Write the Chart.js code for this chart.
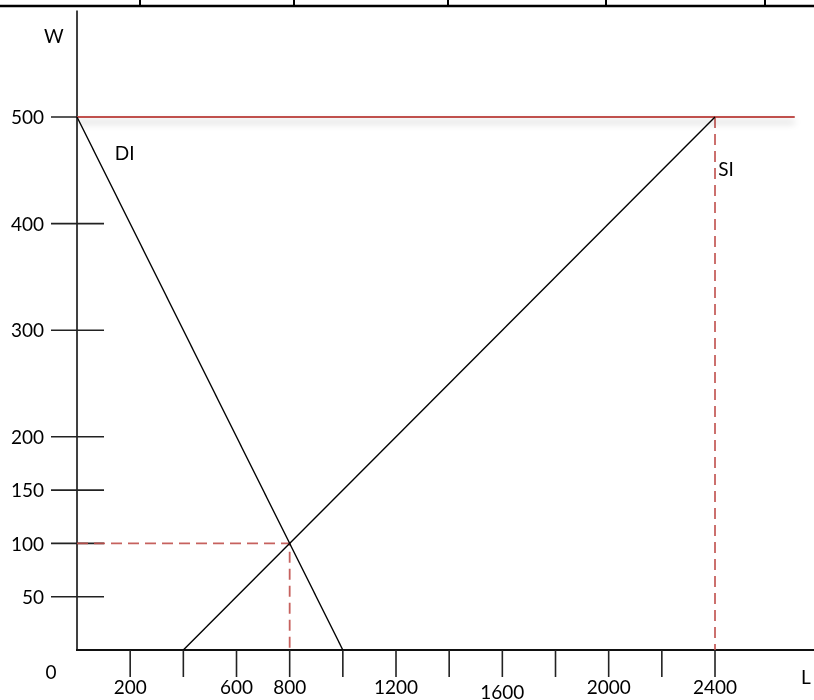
<!DOCTYPE html>
<html>
<head>
<meta charset="utf-8">
<script src="https://cdn.jsdelivr.net/npm/chart.js@4/dist/chart.umd.min.js"></script>
<style>
  html, body { margin: 0; padding: 0; background: #fff; }
  #wrap { width: 814px; height: 700px; }
</style>
</head>
<body>
<div id="wrap"><canvas id="myChart" width="814" height="700"></canvas></div>
<script>
// values
const diLine = [{x: 0, y: 500}, {x: 1000, y: 0}];
const siLine = [{x: 400, y: 0}, {x: 2400, y: 500}];
const capLine = [{x: 0, y: 500}, {x: 2700, y: 500}];
const eqGuide = [{x: 0, y: 100}, {x: 800, y: 100}, {x: 800, y: 0}];
const capGuide = [{x: 2400, y: 500}, {x: 2400, y: 0}];

const yTicks = [50, 100, 150, 200, 300, 400, 500];
const xTicks = [200, 400, 600, 800, 1000, 1200, 1400, 1600, 1800, 2000, 2200, 2400];
const xTickLabels = ['200', '', '600', '800', '', '1200', '', '1600', '', '2000', '', '2400'];

const axisTopY = 600;
const labels = [
  {text: 'W', x: -87, y: 575, align: 'center'},
  {text: 'L', x: 2742, y: -26, align: 'center'},
  {text: '0', x: -98, y: -21, align: 'center'},
  {text: 'DI', x: 142, y: 465, align: 'left'},
  {text: 'SI', x: 2412, y: 450, align: 'left'},
];

const FONT = '19px Lato, "Open Sans", sans-serif';
const RED = '#c0504d';
const DASH_RED = 'rgba(192, 80, 77, 0.9)';

const axesPlugin = {
  id: 'axes',
  beforeDatasetsDraw(chart) {
    const c = chart.ctx;
    const xs = chart.scales.x, ys = chart.scales.y;
    const x0 = xs.getPixelForValue(0), y0 = ys.getPixelForValue(0);
    c.save();
    // border of the page table on top
    c.strokeStyle = '#000';
    c.lineWidth = 2.5;
    c.beginPath();
    c.moveTo(0, 6); c.lineTo(chart.width, 6);
    c.stroke();
    c.lineWidth = 2;
    [140, 294, 448, 606, 765].forEach((px) => {
      c.beginPath(); c.moveTo(px, 0); c.lineTo(px, 6); c.stroke();
    });

    // y axis
    c.strokeStyle = '#404040';
    c.lineWidth = 2;
    c.beginPath();
    c.moveTo(x0, ys.getPixelForValue(axisTopY));
    c.lineTo(x0, y0);
    c.stroke();
    // x axis
    c.strokeStyle = '#111';
    c.beginPath();
    c.moveTo(x0 - 1, y0);
    c.lineTo(chart.width, y0);
    c.stroke();

    c.font = FONT;
    c.fillStyle = '#000';
    // y ticks cross the axis
    c.strokeStyle = '#222';
    c.lineWidth = 1.6;
    c.textAlign = 'right';
    c.textBaseline = 'middle';
    yTicks.forEach((v) => {
      const py = ys.getPixelForValue(v);
      c.beginPath(); c.moveTo(x0 - 26, py); c.lineTo(x0 + 27, py); c.stroke();
      c.fillText(String(v), x0 - 33, py + 1);
    });
    // x ticks hang below the axis
    c.textAlign = 'center';
    xTicks.forEach((v, i) => {
      const px = xs.getPixelForValue(v);
      c.beginPath(); c.moveTo(px, y0); c.lineTo(px, y0 + 27); c.stroke();
      const lbl = xTickLabels[i];
      if (lbl) {
        const drop = lbl === '1600' ? 5 : 0;
        c.fillText(lbl, px, y0 + 38 + drop);
      }
    });
    c.restore();
  },
  afterDatasetsDraw(chart) {
    const c = chart.ctx;
    const xs = chart.scales.x, ys = chart.scales.y;
    c.save();
    c.font = FONT;
    c.fillStyle = '#000';
    c.textBaseline = 'middle';
    labels.forEach((l) => {
      c.textAlign = l.align;
      c.fillText(l.text, xs.getPixelForValue(l.x), ys.getPixelForValue(l.y));
    });
    c.restore();
  }
};

const shadowPlugin = {
  id: 'shadow',
  beforeDatasetDraw(chart, args) {
    if (args.index !== 2) return;
    const c = chart.ctx;
    c.save();
    c.shadowColor = 'rgba(0, 0, 0, 0.28)';
    c.shadowBlur = 7;
    c.shadowOffsetY = 5;
  },
  afterDatasetDraw(chart, args) {
    if (args.index !== 2) return;
    chart.ctx.restore();
  }
};

const line = (data, color, width, dash) => ({
  data: data,
  showLine: true,
  borderColor: color,
  borderWidth: width,
  borderDash: dash || [],
  pointRadius: 0,
  fill: false,
  tension: 0,
});

const ctx = document.getElementById('myChart');
const chart = new Chart(ctx, {
  type: 'scatter',
  data: {
    datasets: [
      line(diLine, '#000', 1.4),
      line(siLine, '#000', 1.4),
      line(capLine, RED, 2),
      line(eqGuide, DASH_RED, 1.8, [11, 6]),
      line(capGuide, DASH_RED, 1.8, [11, 6]),
    ]
  },
  options: {
    responsive: false,
    animation: false,
    devicePixelRatio: 1,
    layout: {padding: 0},
    plugins: {legend: {display: false}, tooltip: {enabled: false}},
    scales: {
      x: {type: 'linear', display: false, min: -289.7, max: 2772.4},
      y: {type: 'linear', display: false, min: -46.9, max: 609.8},
    },
  },
  plugins: [axesPlugin, shadowPlugin],
});
</script>
</body>
</html>
